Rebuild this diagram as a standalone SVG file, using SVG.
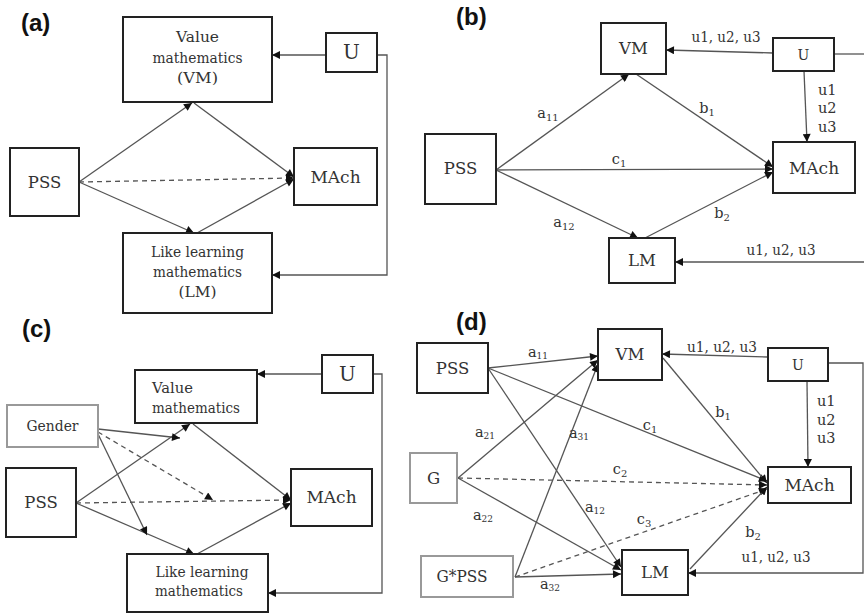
<svg xmlns="http://www.w3.org/2000/svg" width="864" height="614" viewBox="0 0 864 614">
<defs>
<marker id="ah" viewBox="0 0 10 10" refX="10" refY="5" markerWidth="10" markerHeight="8" orient="auto" markerUnits="userSpaceOnUse"><path d="M0,0 L10,5 L0,10 z" fill="#111"/></marker>
<style>
.box{fill:#fff;stroke:#222;stroke-width:2}
.gbox{fill:#fff;stroke:#999;stroke-width:2}
.t,.tl,.lab,.labl{font-family:'DejaVu Serif',serif;fill:#333}
.t{font-size:16.5px;text-anchor:middle}
.tl{font-size:15.5px}
.m{font-size:15.5px}
.lab{font-size:14.5px;text-anchor:middle}
.labl{font-size:14.5px}
.pl{font-family:'Liberation Sans',Arial,sans-serif;font-size:24px;font-weight:bold;fill:#111}
.c{fill:none;stroke:#555;stroke-width:1.3;marker-end:url(#ah)}
.n{fill:none;stroke:#555;stroke-width:1.3}
.d{fill:none;stroke:#555;stroke-width:1.3;stroke-dasharray:5,4;marker-end:url(#ah)}
</style>
</defs>
<rect width="864" height="614" fill="#fff"/>

<!-- panel labels -->
<text class="pl" x="21" y="31">(a)</text>
<text class="pl" x="456" y="25">(b)</text>
<text class="pl" x="22" y="337">(c)</text>
<text class="pl" x="456" y="330">(d)</text>

<g id="connectors">
<!-- (a) -->
<line class="c" x1="326" y1="55" x2="272" y2="55"/>
<polyline class="c" points="377,55 387,55 387,275 272,275"/>
<line class="c" x1="79" y1="182" x2="192" y2="103"/>
<line class="c" x1="194" y1="103" x2="294" y2="177"/>
<line class="c" x1="79" y1="182" x2="194" y2="233"/>
<line class="c" x1="197" y1="233" x2="294" y2="179"/>
<line class="d" x1="79" y1="182" x2="294" y2="178"/>
<!-- (b) -->
<line class="c" x1="773" y1="53" x2="666" y2="50"/>
<line class="c" x1="804" y1="71" x2="807" y2="142"/>
<line class="n" x1="834" y1="54" x2="864" y2="54"/>
<line class="c" x1="864" y1="262" x2="675" y2="262"/>
<line class="c" x1="496" y1="170" x2="629" y2="74"/>
<line class="c" x1="496" y1="170" x2="773" y2="169"/>
<line class="c" x1="496" y1="170" x2="638" y2="238"/>
<line class="c" x1="636" y1="74" x2="773" y2="167"/>
<line class="c" x1="645" y1="238" x2="773" y2="172"/>
<!-- (c) -->
<line class="c" x1="322" y1="374" x2="257" y2="374"/>
<polyline class="c" points="373,374 382,374 382,593 268,593"/>
<line class="c" x1="76" y1="503" x2="190" y2="424"/>
<line class="c" x1="193" y1="424" x2="291" y2="500"/>
<line class="d" x1="76" y1="503" x2="291" y2="500"/>
<line class="c" x1="76" y1="503" x2="194" y2="554"/>
<line class="c" x1="197" y1="554" x2="291" y2="503"/>
<line class="c" x1="98" y1="429" x2="180" y2="438"/>
<line class="d" x1="98" y1="432" x2="213" y2="500"/>
<line class="c" x1="98" y1="434" x2="147" y2="535"/>
<!-- (d) -->
<line class="c" x1="488" y1="368" x2="598" y2="356"/>
<line class="c" x1="488" y1="368" x2="621" y2="567"/>
<line class="c" x1="488" y1="368" x2="767" y2="481"/>
<line class="c" x1="458" y1="478" x2="598" y2="360"/>
<line class="d" x1="458" y1="478" x2="767" y2="485"/>
<line class="c" x1="458" y1="478" x2="621" y2="570"/>
<line class="c" x1="515" y1="577" x2="598" y2="364"/>
<line class="d" x1="515" y1="577" x2="767" y2="489"/>
<line class="c" x1="515" y1="577" x2="621" y2="574"/>
<line class="c" x1="663" y1="358" x2="767" y2="483"/>
<line class="c" x1="690" y1="569" x2="767" y2="487"/>
<line class="c" x1="768" y1="357" x2="662" y2="354"/>
<line class="c" x1="807" y1="381" x2="808" y2="467"/>
<polyline class="c" points="828,363 863,363 863,573 688,573"/>
</g>

<g id="edge-labels">
<text class="lab" x="726" y="42" textLength="69" lengthAdjust="spacingAndGlyphs">u1, u2, u3</text>
<text class="labl" x="818" y="95">u1</text>
<text class="labl" x="818" y="113">u2</text>
<text class="labl" x="818" y="132">u3</text>
<text class="lab" x="781" y="255" textLength="69" lengthAdjust="spacingAndGlyphs">u1, u2, u3</text>
<text class="lab" x="548" y="118">a<tspan font-size="10" dy="3">11</tspan></text>
<text class="lab" x="707" y="113">b<tspan font-size="10" dy="3">1</tspan></text>
<text class="lab" x="619" y="164">c<tspan font-size="10" dy="3">1</tspan></text>
<text class="lab" x="564" y="227">a<tspan font-size="10" dy="3">12</tspan></text>
<text class="lab" x="722" y="218">b<tspan font-size="10" dy="3">2</tspan></text>

<text class="lab" x="722" y="352" textLength="70" lengthAdjust="spacingAndGlyphs">u1, u2, u3</text>
<text class="labl" x="817" y="406">u1</text>
<text class="labl" x="817" y="425">u2</text>
<text class="labl" x="817" y="443">u3</text>
<text class="lab" x="776" y="562" textLength="69" lengthAdjust="spacingAndGlyphs">u1, u2, u3</text>
<text class="lab" x="538" y="357">a<tspan font-size="9" dy="2">11</tspan></text>
<text class="lab" x="595" y="512">a<tspan font-size="9" dy="2">12</tspan></text>
<text class="lab" x="650" y="430">c<tspan font-size="10" dy="3">1</tspan></text>
<text class="lab" x="485" y="437">a<tspan font-size="9" dy="2">21</tspan></text>
<text class="lab" x="620" y="474">c<tspan font-size="10" dy="3">2</tspan></text>
<text class="lab" x="483" y="520">a<tspan font-size="9" dy="2">22</tspan></text>
<text class="lab" x="579" y="438">a<tspan font-size="9" dy="2">31</tspan></text>
<text class="lab" x="644" y="524">c<tspan font-size="10" dy="3">3</tspan></text>
<text class="lab" x="550" y="589">a<tspan font-size="9" dy="2">32</tspan></text>
<text class="lab" x="723" y="417">b<tspan font-size="10" dy="3">1</tspan></text>
<text class="lab" x="753" y="537">b<tspan font-size="10" dy="3">2</tspan></text>
</g>

<!-- panel (a) nodes -->
<g id="a-vm"><rect class="box" x="123" y="17" width="149" height="85"/>
<text class="t m" x="197.5" y="42" textLength="43" lengthAdjust="spacingAndGlyphs">Value</text>
<text class="t m" x="197.5" y="63" textLength="90" lengthAdjust="spacingAndGlyphs">mathematics</text>
<text class="t m" x="197.5" y="83" textLength="41" lengthAdjust="spacingAndGlyphs">(VM)</text></g>
<g id="a-u"><rect class="box" x="326" y="33" width="51" height="39"/><text class="t" x="351.5" y="59" style="font-size:20px">U</text></g>
<g id="a-pss"><rect class="box" x="10" y="148" width="69" height="68"/><text class="t" x="44.5" y="188">PSS</text></g>
<g id="a-mach"><rect class="box" x="294" y="148" width="83" height="57"/><text class="t" x="335.5" y="183" style="font-size:17px">MAch</text></g>
<g id="a-lm"><rect class="box" x="123" y="233" width="149" height="80"/>
<text class="t m" x="197.5" y="257" textLength="93" lengthAdjust="spacingAndGlyphs">Like learning</text>
<text class="t m" x="197.5" y="277" textLength="89" lengthAdjust="spacingAndGlyphs">mathematics</text>
<text class="t m" x="197.5" y="297" textLength="38" lengthAdjust="spacingAndGlyphs">(LM)</text></g>

<!-- panel (b) nodes -->
<g id="b-vm"><rect class="box" x="601" y="23" width="65" height="51"/><text class="t" x="633.5" y="54">VM</text></g>
<g id="b-u"><rect class="box" x="773" y="38" width="61" height="33"/><text class="t" x="803.5" y="60" style="font-size:14px">U</text></g>
<g id="b-pss"><rect class="box" x="425" y="134" width="71" height="70"/><text class="t" x="460.5" y="174">PSS</text></g>
<g id="b-mach"><rect class="box" x="773" y="142" width="82" height="51"/><text class="t" x="814" y="174" style="font-size:17px">MAch</text></g>
<g id="b-lm"><rect class="box" x="609" y="238" width="66" height="45"/><text class="t" x="642" y="266">LM</text></g>

<!-- panel (c) nodes -->
<g id="c-vm"><rect class="box" x="135" y="370" width="122" height="53"/>
<text class="tl" x="152" y="393" textLength="41" lengthAdjust="spacingAndGlyphs">Value</text>
<text class="tl" x="152" y="413" textLength="88" lengthAdjust="spacingAndGlyphs">mathematics</text></g>
<g id="c-u"><rect class="box" x="322" y="355" width="51" height="38"/><text class="t" x="347.5" y="381" style="font-size:20px">U</text></g>
<g id="c-gender"><rect class="gbox" x="7" y="405" width="91" height="42"/><text class="t m" x="52.5" y="431" textLength="52" lengthAdjust="spacingAndGlyphs">Gender</text></g>
<g id="c-pss"><rect class="box" x="6" y="468" width="70" height="69"/><text class="t" x="41" y="508">PSS</text></g>
<g id="c-mach"><rect class="box" x="291" y="469" width="81" height="57"/><text class="t" x="331.5" y="503" style="font-size:17px">MAch</text></g>
<g id="c-lm"><rect class="box" x="127" y="554" width="141" height="58"/>
<text class="t m" x="202" y="577" textLength="93" lengthAdjust="spacingAndGlyphs">Like learning</text>
<text class="t m" x="199" y="596" textLength="88" lengthAdjust="spacingAndGlyphs">mathematics</text></g>

<!-- panel (d) nodes -->
<g id="d-pss"><rect class="box" x="417" y="343" width="71" height="50"/><text class="t" x="452.5" y="374">PSS</text></g>
<g id="d-vm"><rect class="box" x="598" y="329" width="64" height="51"/><text class="t" x="630" y="360">VM</text></g>
<g id="d-u"><rect class="box" x="768" y="348" width="60" height="33"/><text class="t" x="798" y="370" style="font-size:14px">U</text></g>
<g id="d-g"><rect class="gbox" x="410" y="453" width="47" height="50"/><text class="t" x="433.5" y="484">G</text></g>
<g id="d-mach"><rect class="box" x="768" y="467" width="83" height="36"/><text class="t" x="809.5" y="491" style="font-size:17px">MAch</text></g>
<g id="d-gpss"><rect class="gbox" x="421" y="556" width="92" height="41"/><text class="t" x="462" y="582" textLength="51" lengthAdjust="spacingAndGlyphs">G*PSS</text></g>
<g id="d-lm"><rect class="box" x="622" y="550" width="66" height="45"/><text class="t" x="655" y="578">LM</text></g>
</svg>
